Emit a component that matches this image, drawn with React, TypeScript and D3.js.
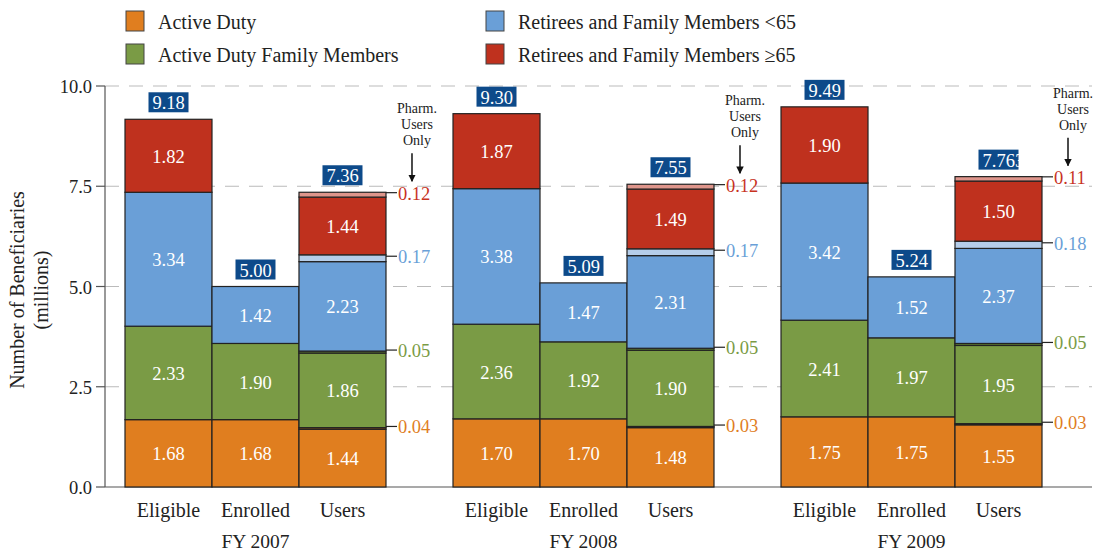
import * as d3 from "d3";

// Beneficiary counts (millions)
const years = ["FY 2007", "FY 2008", "FY 2009"];
const categories = ["Eligible", "Enrolled", "Users"];
const seriesNames = [
  "Active Duty",
  "Active Duty Family Members",
  "Retirees and Family Members <65",
  "Retirees and Family Members \u226565",
];

// [year][category] -> values per series
const activeDuty = [
  [1.68, 1.68, 1.44],
  [1.7, 1.7, 1.48],
  [1.75, 1.75, 1.55],
];
const adFamily = [
  [2.33, 1.9, 1.86],
  [2.36, 1.92, 1.9],
  [2.41, 1.97, 1.95],
];
const retUnder65 = [
  [3.34, 1.42, 2.23],
  [3.38, 1.47, 2.31],
  [3.42, 1.52, 2.37],
];
const retOver65 = [
  [1.82, 0, 1.44],
  [1.87, 0, 1.49],
  [1.9, 0, 1.5],
];
// pharmacy-only users, per year, per series
const pharmOnly = [
  [0.04, 0.05, 0.17, 0.12],
  [0.03, 0.05, 0.17, 0.12],
  [0.03, 0.05, 0.18, 0.11],
];
const totals = [
  ["9.18", "5.00", "7.36"],
  ["9.30", "5.09", "7.55"],
  ["9.49", "5.24", "7.763"],
];
const yTicks = [0, 2.5, 5, 7.5, 10];

const colors = ["#e07e1f", "#7a9b45", "#6a9fd7", "#bf311e"];
const pharmColors = ["#a85d16", "#5c7a31", "#b5cde9", "#de958b"];
const labelColors = ["#e07e1f", "#7a9b45", "#6a9fd7", "#c8331f"];
const FONT = "Liberation Serif";

const width = 1106;
const height = 550;

export default function App() {
  const y = d3.scaleLinear().domain([0, 10]).range([487, 86]);
  const x0 = d3
    .scaleBand<string>()
    .domain(years)
    .range([125, 1042])
    .paddingInner(0.2043)
    .paddingOuter(0);
  const x1 = d3
    .scaleBand<string>()
    .domain(categories)
    .range([0, x0.bandwidth()])
    .padding(0);
  const series = [activeDuty, adFamily, retUnder65, retOver65];

  return (
    <svg
      width={width}
      height={height}
      fontFamily={FONT}
      style={{ position: "absolute", left: 0, top: 0 }}
    >
      <defs>
        <marker
          id="arrow"
          viewBox="0 0 10 10"
          refX="9"
          refY="5"
          markerWidth="5"
          markerHeight="5"
          orient="auto"
        >
          <path d="M0,0 L10,5 L0,10 z" fill="#111" />
        </marker>
      </defs>

      {/* Legend */}
      {seriesNames.map((name, i) => (
        <g
          key={name}
          transform={`translate(${i < 2 ? 126 : 486},${i % 2 === 0 ? 21 : 54})`}
        >
          <rect x={0} y={-10} width={18} height={20} fill={colors[i]} stroke="#444" strokeWidth={1} />
          <text x={32} y={1} dominantBaseline="central" fontSize={20} fill="#222">
            {name}
          </text>
        </g>
      ))}

      {/* Grid lines */}
      {yTicks.slice(1).map((t) => (
        <line
          key={`g-${t}`}
          x1={105}
          x2={1092}
          y1={y(t)}
          y2={y(t)}
          stroke="#bbb"
          strokeWidth={1.2}
          strokeDasharray="14 10"
        />
      ))}

      {/* Axes */}
      <line x1={105} x2={105} y1={y(10)} y2={y(0)} stroke="#555" strokeWidth={1.2} />
      <line x1={105} x2={1092} y1={y(0)} y2={y(0)} stroke="#555" strokeWidth={1.2} />
      {yTicks.map((t) => (
        <g key={`t-${t}`}>
          <line x1={96} x2={105} y1={y(t)} y2={y(t)} stroke="#555" strokeWidth={1.2} />
          <text x={92} y={y(t) + 1} textAnchor="end" dominantBaseline="central" fontSize={18.5} fill="#222">
            {t.toFixed(1)}
          </text>
        </g>
      ))}
      <text
        transform="translate(24,290) rotate(-90)"
        textAnchor="middle"
        fontSize={20}
        fill="#222"
      >
        <tspan x={0} dy={0}>Number of Beneficiaries</tspan>
        <tspan x={0} dy={24}>(millions)</tspan>
      </text>

      {/* Bars */}
      {years.map((yr, yi) => {
        const gx = x0(yr) || 0;
        return (
          <g key={yr}>
            {categories.map((cat, ci) => {
              const bx = gx + (x1(cat) || 0);
              const bw = x1.bandwidth();
              const isUsers = cat === "Users";
              let base = 0;
              const segs: { v0: number; v1: number; fill: string; label?: string; pharm?: number }[] = [];
              series.forEach((s, si) => {
                const v = s[yi][ci];
                if (v > 0) {
                  segs.push({ v0: base, v1: base + v, fill: colors[si], label: v.toFixed(2) });
                  base += v;
                }
                if (isUsers) {
                  const p = pharmOnly[yi][si];
                  segs.push({ v0: base, v1: base + p, fill: pharmColors[si], pharm: si });
                  base += p;
                }
              });
              const top = y(base);
              return (
                <g key={cat}>
                  {segs.map((sg, k) => (
                    <rect
                      key={k}
                      x={bx}
                      y={y(sg.v1)}
                      width={bw}
                      height={y(sg.v0) - y(sg.v1)}
                      fill={sg.fill}
                      stroke="#222"
                      strokeWidth={1.2}
                    />
                  ))}
                  {segs
                    .filter((sg) => sg.label)
                    .map((sg, k) => (
                      <text
                        key={`l-${k}`}
                        x={bx + bw / 2}
                        y={(y(sg.v0) + y(sg.v1)) / 2 + 1}
                        textAnchor="middle"
                        dominantBaseline="central"
                        fontSize={18.5}
                        fill="#fff"
                      >
                        {sg.label}
                      </text>
                    ))}
                  {segs
                    .filter((sg) => sg.pharm !== undefined)
                    .map((sg) => {
                      const si = sg.pharm as number;
                      const my = (y(sg.v0) + y(sg.v1)) / 2 - 2;
                      return (
                        <g key={`p-${si}`}>
                          <line x1={bx + bw} x2={bx + bw + 11} y1={my} y2={my} stroke="#222" strokeWidth={1.2} />
                          <text
                            x={bx + bw + 12}
                            y={my + 1}
                            dominantBaseline="central"
                            fontSize={18.5}
                            fill={labelColors[si]}
                          >
                            {pharmOnly[yi][si].toFixed(2)}
                          </text>
                        </g>
                      );
                    })}
                  {/* total box; text may overflow as in the source */}
                  <rect x={bx + bw / 2 - 20} y={top - 27} width={40} height={20} fill="#0d4a8a" />
                  <text
                    x={bx + bw / 2 - 16}
                    y={top - 16}
                    dominantBaseline="central"
                    fontSize={18.5}
                    fill="#fff"
                  >
                    {totals[yi][ci]}
                  </text>
                  {isUsers && (
                    <g>
                      <text textAnchor="middle" fontSize={14} fill="#222">
                        {["Pharm.", "Users", "Only"].map((w, wi) => (
                          <tspan key={w} x={bx + bw + 31} y={top - 79 + wi * 16}>
                            {w}
                          </tspan>
                        ))}
                      </text>
                      <line
                        x1={bx + bw + 26}
                        x2={bx + bw + 26}
                        y1={top - 39}
                        y2={top - 11}
                        stroke="#111"
                        strokeWidth={1.5}
                        markerEnd="url(#arrow)"
                      />
                    </g>
                  )}
                  <text
                    x={bx + bw / 2}
                    y={510}
                    textAnchor="middle"
                    dominantBaseline="central"
                    fontSize={20}
                    fill="#222"
                  >
                    {cat}
                  </text>
                </g>
              );
            })}
            <text
              x={gx + x0.bandwidth() / 2}
              y={541}
              textAnchor="middle"
              dominantBaseline="central"
              fontSize={19.5}
              fill="#222"
            >
              {yr}
            </text>
          </g>
        );
      })}
    </svg>
  );
}
